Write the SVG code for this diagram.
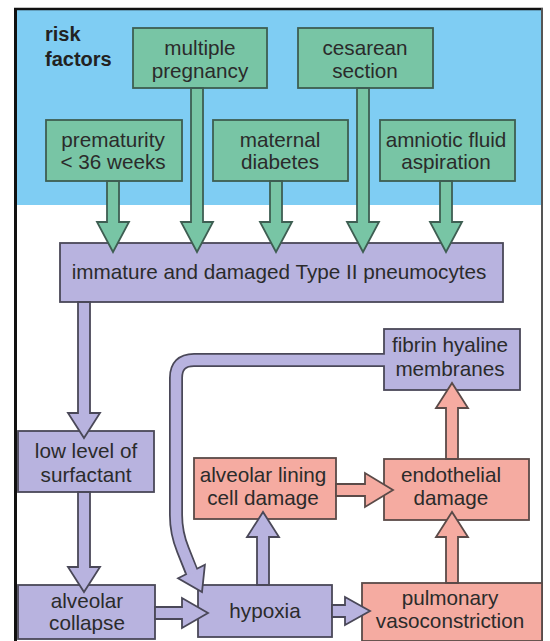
<svg xmlns="http://www.w3.org/2000/svg" width="550" height="641" viewBox="0 0 550 641">
<style>
.t{font-family:"Liberation Sans",Arial,sans-serif;font-size:20.7px;fill:#2b2b2b;text-anchor:middle}
.b{font-family:"Liberation Sans",Arial,sans-serif;font-size:20px;font-weight:bold;fill:#222}
.g{fill:#78c5a5;stroke:#3e5e52;stroke-width:1.8}
.p{fill:#b8b3df;stroke:#4a4858;stroke-width:1.8}
.r{fill:#f5aba1;stroke:#5a4a48;stroke-width:1.8}
</style>
<rect x="0" y="0" width="550" height="641" fill="#fff"/>
<rect x="17" y="10" width="524" height="195" fill="#7fcdf3"/>
<g id="frame">
<line x1="14" y1="9" x2="543" y2="9" stroke="#111" stroke-width="2.5"/>
<line x1="15.5" y1="8" x2="15.5" y2="641" stroke="#111" stroke-width="3"/>
<line x1="542" y1="8" x2="542" y2="641" stroke="#555" stroke-width="2"/>
</g>
<g id="risk-factors"><text class="b" x="45" y="41">risk</text><text class="b" x="45" y="66">factors</text></g>

<g id="multiple"><rect class="g" x="133" y="28" width="134" height="60"/><text class="t" x="200" y="54.5">multiple</text><text class="t" x="200" y="78">pregnancy</text></g>
<g id="cesarean"><rect class="g" x="298" y="28" width="135" height="60"/><text class="t" x="365" y="54.5">cesarean</text><text class="t" x="365" y="78">section</text></g>
<g id="prematurity"><rect class="g" x="46" y="120" width="136" height="61"/><text class="t" x="113" y="146.5">prematurity</text><text class="t" x="113" y="169">&lt; 36 weeks</text></g>
<g id="maternal"><rect class="g" x="213" y="120" width="135" height="61"/><text class="t" x="280" y="146.5">maternal</text><text class="t" x="280" y="169">diabetes</text></g>
<g id="amniotic"><rect class="g" x="380" y="120" width="135" height="61"/><text class="t" x="446" y="146.5">amniotic fluid</text><text class="t" x="446" y="169">aspiration</text></g>

<g id="pneumocytes"><rect class="p" x="60" y="243" width="443" height="59"/><text class="t" x="279" y="279">immature and damaged Type II pneumocytes</text></g>
<g id="fibrin"><rect class="p" x="384" y="329" width="136" height="61"/><text class="t" x="450" y="352">fibrin hyaline</text><text class="t" x="450" y="376">membranes</text></g>
<g id="surfactant"><rect class="p" x="18" y="431" width="136" height="61"/><text class="t" x="86" y="457.5">low level of</text><text class="t" x="86" y="481.5">surfactant</text></g>
<g id="lining"><rect class="r" x="194" y="458" width="142" height="61"/><text class="t" x="263" y="482">alveolar lining</text><text class="t" x="263" y="505">cell damage</text></g>
<g id="endothelial"><rect class="r" x="384" y="459" width="145" height="61"/><text class="t" x="451" y="482">endothelial</text><text class="t" x="451" y="505">damage</text></g>
<g id="collapse"><rect class="p" x="18" y="585" width="137" height="54"/><text class="t" x="87" y="607.5">alveolar</text><text class="t" x="87" y="630">collapse</text></g>
<g id="hypoxia"><rect class="p" x="198" y="585" width="134" height="52"/><text class="t" x="265" y="618">hypoxia</text></g>
<g id="pulmonary"><rect class="r" x="362" y="583" width="180" height="58"/><text class="t" x="450" y="605">pulmonary</text><text class="t" x="450" y="628">vasoconstriction</text></g>

<g id="connectors">
<polygon class="g" points="107,181 119,181 119,222 129,222 113,252 97,222 107,222"/>
<polygon class="g" points="191,88 203,88 203,222 213,222 197,252 181,222 191,222"/>
<polygon class="g" points="270,181 282,181 282,222 292,222 276,252 260,222 270,222"/>
<polygon class="g" points="357,88 369,88 369,222 379,222 363,252 347,222 357,222"/>
<polygon class="g" points="440,181 452,181 452,222 462,222 446,252 430,222 440,222"/>
<polygon class="p" points="78,302 90,302 90,413 100,413 84,438 68,413 78,413"/>
<polygon class="p" points="78,492 90,492 90,567 100,567 84,592 68,567 78,567"/>
<polygon class="p" points="155,607 182,607 182,598 208,613 182,628 182,619 155,619"/>
<polygon class="p" points="332,605 345,605 345,597 370,611 345,625 345,617 332,617"/>
<polygon class="p" points="257,585 269,585 269,537 279,537 263,512 247,537 257,537"/>
<polygon class="r" points="446,583 458,583 458,537 468,537 452,512 436,537 446,537"/>
<polygon class="r" points="446,459 458,459 458,408 468,408 452,383 436,408 446,408"/>
<polygon class="r" points="336,484 365,484 365,473 393,490 365,507 365,496 336,496"/>
<path d="M384 360 H194 Q176 360 176 378 V515 Q176 533 183 550 L191.5 571.5" fill="none" stroke="#4a4858" stroke-width="14"/>
<polygon class="p" points="204.9,564.7 202,592 178.1,578.3"/>
<path d="M385 360 H194 Q176 360 176 378 V515 Q176 533 183 550 L192.4 573.3" fill="none" stroke="#b8b3df" stroke-width="10.5"/>
</g>
</svg>
